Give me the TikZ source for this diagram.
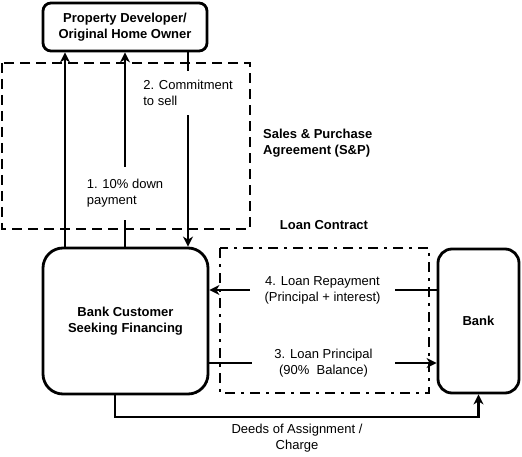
\documentclass[tikz,border=0pt]{standalone}
\usepackage{fontspec}
\setmainfont{Liberation Sans}
\usetikzlibrary{positioning,arrows.meta}
\usepackage{xcolor}

\begin{document}
\begin{tikzpicture}[x=1pt, y=-1pt,
	party/.style={draw, line width=2.8pt, align=center, font=\fontsize{13}{16}\selectfont\bfseries, inner sep=0pt},
	flowtext/.style={align=left, font=\fontsize{13}{16}\selectfont, inner sep=0pt},
	boldtext/.style={align=left, font=\fontsize{13}{16}\selectfont\bfseries, inner sep=0pt},
	flow/.style={line width=2.8pt},
	arr/.style={line width=2.8pt, -{Stealth[length=10pt, width=10pt, inset=3pt]}}]
	\useasboundingbox (0,0) rectangle (522,457);
	
	% Parties
	\node[party, rounded corners=8pt, minimum width=164pt, minimum height=48pt] (dev) at (125,27) {Property Developer/\\Original Home Owner};
	\node[party, rounded corners=20pt, minimum width=165pt, minimum height=146pt] (cust) at (125.5,321) {Bank Customer\\Seeking Financing};
	\node[party, rounded corners=14pt, minimum width=81pt, minimum height=144pt] (bank) at (478.5,321) {Bank};
	
	% Contract frames
	\draw[line width=2.8pt, dash pattern=on 10pt off 6pt] (2,63) rectangle (250,229);
	\draw[line width=2.8pt, dash pattern=on 10pt off 6pt on 3pt off 6pt] (220,248) rectangle (429,393);
	\node[boldtext] (spa) at (263,143) [anchor=west] {Sales \& Purchase\\Agreement (S\&P)};
	\node[boldtext] (loan) at (324,225) {Loan Contract};
	
	% Sales and purchase flows
	\node[flowtext, minimum height=53pt] (dpay) at (125,193.5) {1. 10\% down\\payment};
	\node[flowtext, minimum height=44pt] (commit) at (188,93) {2. Commitment\\to sell};
	\draw[arr] (cust.north -| 65,0) -- (dev.south -| 65,0);
	\draw[flow] (cust.north -| dpay) -- (dpay.south);
	\draw[arr] (dpay.north) -- (dev.south -| dpay);
	\draw[flow] (dev.south -| commit) -- (commit.north);
	\draw[arr] (commit.south) -- (cust.north -| commit);
	
	% Loan flows
	\node[flowtext, align=center, minimum width=145pt] (repay) at (322.5,290) {4. Loan Repayment\\(Principal + interest)};
	\node[flowtext, align=center, minimum width=143pt] (princ) at (323.5,363) {3. Loan Principal\\(90\%\ \ Balance)};
	\draw[flow] (bank.west |- repay) -- (repay.east);
	\draw[arr] (repay.west) -- (cust.east |- repay);
	\draw[flow] (cust.east |- princ) -- (princ.west);
	\draw[arr] (princ.east) -- (bank.west |- princ);
	
	% Deeds
	\coordinate (deedturn) at (115,417);
	\node[flowtext, align=center] (deeds) at (297,438) {Deeds of Assignment /\\Charge};
	\draw[arr] (cust.south -| deedturn) -- (deedturn) -| (bank.south);
	
\end{tikzpicture}
\end{document}
